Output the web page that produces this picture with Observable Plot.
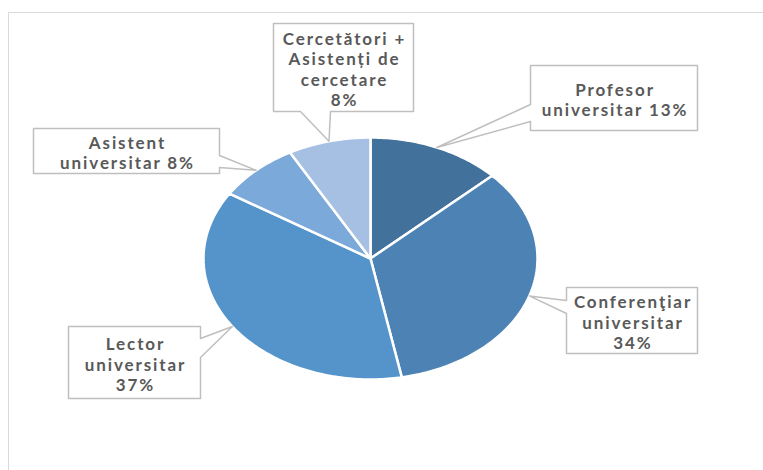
<!DOCTYPE html>
<html><head><meta charset="utf-8">
<script src="https://cdn.jsdelivr.net/npm/d3@7"></script>
<script src="https://cdn.jsdelivr.net/npm/@observablehq/plot@0.6"></script>
<style>
body{margin:0;background:#fff;}
#wrap{position:relative;width:763px;height:470px;overflow:hidden;background:#fff;}
#frame{position:absolute;left:8px;top:12px;width:800px;height:500px;border:1.5px solid #d9d9d9;box-sizing:border-box;}
#chart{position:absolute;left:0;top:0;}
</style></head><body>
<div id="wrap"><div id="frame"></div><div id="chart"></div></div>
<script>
// ---- data ----
const categories = ["Profesor universitar", "Conferenţiar universitar", "Lector universitar", "Asistent universitar", "Cercetători + Asistenți de cercetare"];
const values = [13, 34, 37, 8, 8];
const labelHeads = ["Profesor\nuniversitar ", "Conferenţiar\nuniversitar\n", "Lector\nuniversitar\n", "Asistent\nuniversitar ", "Cercetători +\nAsistenți de\ncercetare\n"];
const colors = ["#42719c", "#4c82b4", "#5594ca", "#7ba9d9", "#a6c0e3"];

// ---- layout ----
const W = 763, H = 470;
const cx = 370, cy = 258, rx = 167, ry = 121;
const boxes = [
  {x0: 530, y0: 65, x1: 697, y1: 130, side: "left", a: 104, b: 121},
  {x0: 566, y0: 287, x1: 697, y1: 353, side: "left", a: 300, b: 313},
  {x0: 68, y0: 326, x1: 200, y1: 398, side: "right", a: 338, b: 357},
  {x0: 33, y0: 128, x1: 219, y1: 173, side: "right", a: 155, b: 167},
  {x0: 273, y0: 23, x1: 413, y1: 111, side: "bottom", a: 300, b: 330}
];

const arcs = d3.pie().sort(null).value(d => d)(values);
const pt = a => ({x: cx + rx * Math.sin(a), y: cy - ry * Math.cos(a)});

const sliceMarks = arcs.map((arc, i) => {
  const n = Math.max(4, Math.ceil((arc.endAngle - arc.startAngle) * 60));
  const pts = [{x: cx, y: cy}];
  for (let k = 0; k <= n; k++) pts.push(pt(arc.startAngle + (arc.endAngle - arc.startAngle) * k / n));
  pts.push({x: cx, y: cy});
  return Plot.line(pts, {x: "x", y: "y", fill: colors[i], stroke: "white", strokeWidth: 2.5, strokeLinejoin: "round"});
});

const calloutMarks = arcs.map((arc, i) => {
  const bx = boxes[i];
  const tip = pt((arc.startAngle + arc.endAngle) / 2);
  const p = [];
  p.push({x: bx.x0, y: bx.y0});
  p.push({x: bx.x1, y: bx.y0});
  if (bx.side === "right") { p.push({x: bx.x1, y: bx.a}); p.push(tip); p.push({x: bx.x1, y: bx.b}); }
  p.push({x: bx.x1, y: bx.y1});
  if (bx.side === "bottom") { p.push({x: bx.b, y: bx.y1}); p.push(tip); p.push({x: bx.a, y: bx.y1}); }
  p.push({x: bx.x0, y: bx.y1});
  if (bx.side === "left") { p.push({x: bx.x0, y: bx.b}); p.push(tip); p.push({x: bx.x0, y: bx.a}); }
  p.push({x: bx.x0, y: bx.y0});
  return Plot.line(p, {x: "x", y: "y", fill: "white", stroke: "#bfbfbf", strokeWidth: 1.5});
});

const labelData = values.map((v, i) => ({
  text: labelHeads[i] + v + "%",
  x: (boxes[i].x0 + boxes[i].x1) / 2 + 1,
  y: (boxes[i].y0 + boxes[i].y1) / 2 + 1.5
}));

const chart = Plot.plot({
  width: W, height: H,
  margin: 0,
  x: {domain: [0, W], range: [0, W], axis: null},
  y: {domain: [0, H], range: [0, H], axis: null},
  style: {background: "transparent", fontFamily: "Lato, sans-serif", letterSpacing: "1.9px"},
  marks: [
    ...sliceMarks,
    ...calloutMarks,
    Plot.text(labelData, {x: "x", y: "y", text: "text", fill: "#595959", fontWeight: "bold", fontSize: 17, lineHeight: 1.2, textAnchor: "middle", lineAnchor: "middle"})
  ]
});
document.getElementById("chart").appendChild(chart);
</script>
</body></html>
